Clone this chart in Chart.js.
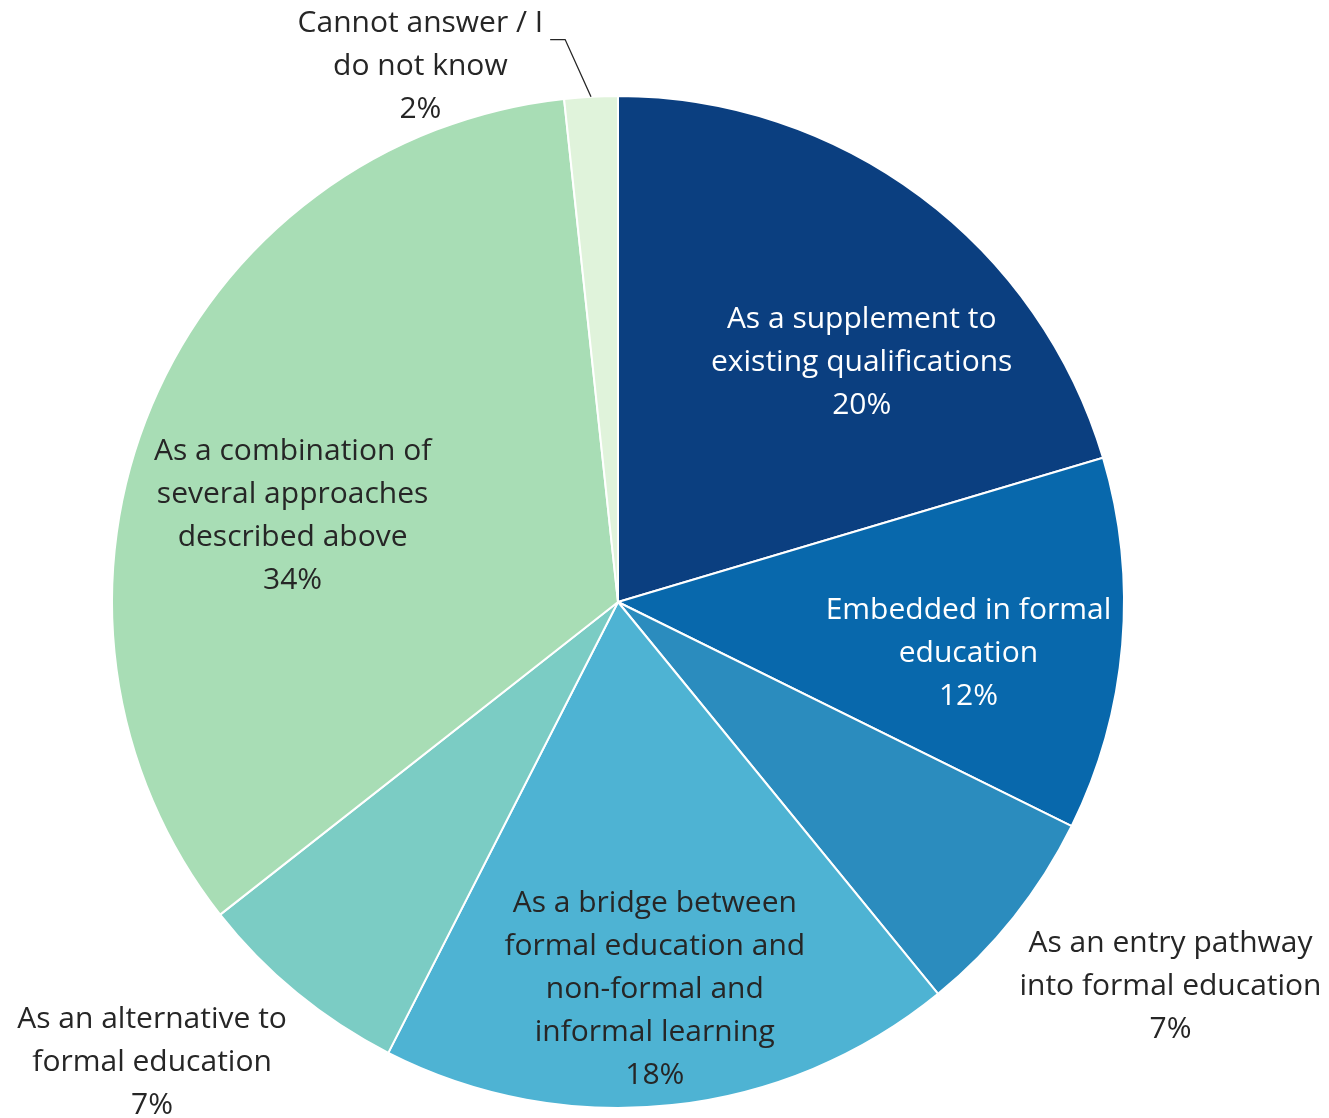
<!DOCTYPE html>
<html>
<head>
<meta charset="utf-8">
<script src="https://cdn.jsdelivr.net/npm/chart.js@4.4.1/dist/chart.umd.min.js"></script>
<style>
  html, body { margin: 0; padding: 0; background: #fff; }
  #wrap { width: 1329px; height: 1118px; }
</style>
</head>
<body>
<div id="wrap"><canvas id="chart" width="1329" height="1118"></canvas></div>
<script>
const categories = [
  ['As a supplement to', 'existing qualifications'],
  ['Embedded in formal', 'education'],
  ['As an entry pathway', 'into formal education'],
  ['As a bridge between', 'formal education and', 'non-formal and', 'informal learning'],
  ['As an alternative to', 'formal education'],
  ['As a combination of', 'several approaches', 'described above'],
  ['Cannot answer / I', 'do not know']
]
// shares; labels show them rounded
const shares = [20.4, 11.9, 6.8, 18.4, 6.9, 33.9, 1.7]
const sliceColors = ['#0b3f80', '#0868ac', '#2b8cbe', '#4eb3d3', '#7bccc4', '#a8ddb5', '#e0f3db']
const labelColors = ['#ffffff', '#ffffff', '#262626', '#262626', '#262626', '#262626', '#262626']

// label placement: [angle shift from slice middle in degrees, distance as share of radius]
const labelPlace = [[8.8, 0.675], [3.5, 0.70], [-3.7, 1.33], [0.7, 0.77], [5.9, 1.295], [-8.1, 0.665], [-17.2, 1.128]]

const FONT = '30px "Open Sans"'
const LINE_H = 43

const sliceLabels = {
  id: 'sliceLabels',
  afterDatasetsDraw(chart) {
    const ctx = chart.ctx
    const meta = chart.getDatasetMeta(0)
    ctx.save()
    ctx.font = FONT
    ctx.textAlign = 'center'
    ctx.textBaseline = 'middle'
    meta.data.forEach((arc, i) => {
      const p = arc.getProps(['x', 'y', 'startAngle', 'endAngle', 'outerRadius'], true)
      const mid = (p.startAngle + p.endAngle) / 2
      const a = mid + labelPlace[i][0] * Math.PI / 180
      const r = p.outerRadius * labelPlace[i][1]
      const cx = p.x + Math.cos(a) * r
      const cy = p.y + Math.sin(a) * r
      const lines = categories[i].concat([Math.round(shares[i]) + '%'])
      const top = cy - (lines.length - 1) * LINE_H / 2
      ctx.fillStyle = labelColors[i]
      lines.forEach((t, k) => ctx.fillText(t, cx, top + k * LINE_H))

      if (i === shares.length - 1) {
        // leader line for the small slice
        const w = ctx.measureText(lines[0]).width
        const ex = p.x + Math.cos(mid) * p.outerRadius
        const ey = p.y + Math.sin(mid) * p.outerRadius
        const ly = top + 16
        const lx = cx + w / 2
        ctx.strokeStyle = '#262626'
        ctx.lineWidth = 1.3
        ctx.beginPath()
        ctx.moveTo(ex, ey)
        ctx.lineTo(lx + 22, ly)
        ctx.lineTo(lx + 7, ly)
        ctx.stroke()
      }
    })
    ctx.restore()
  }
}

new Chart(document.getElementById('chart').getContext('2d'), {
  type: 'pie',
  data: {
    labels: categories.map(c => c.join(' ')),
    datasets: [{
      data: shares,
      backgroundColor: sliceColors,
      borderColor: '#ffffff',
      borderWidth: 2
    }]
  },
  options: {
    responsive: false,
    animation: false,
    layout: { padding: { left: 111, right: 204, top: 95, bottom: 9 } },
    plugins: {
      legend: { display: false },
      tooltip: { enabled: false }
    }
  },
  plugins: [sliceLabels]
})
</script>
</body>
</html>
